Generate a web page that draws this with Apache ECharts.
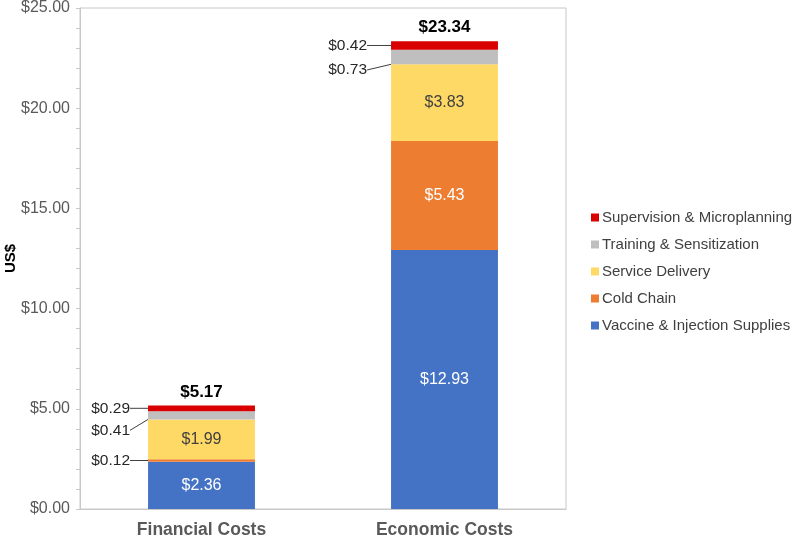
<!DOCTYPE html>
<html>
<head>
<meta charset="utf-8">
<script src="https://cdn.jsdelivr.net/npm/echarts@6/dist/echarts.min.js"></script>
<style>
  html, body { margin: 0; padding: 0; background: #fff; }
  #chart { width: 794px; height: 537px; }
</style>
</head>
<body>
<div id="chart"></div>
<script>
const categories = ['Financial Costs', 'Economic Costs']
const seriesNames = ['Vaccine & Injection Supplies', 'Cold Chain', 'Service Delivery', 'Training & Sensitization', 'Supervision & Microplanning']
const vaccine = [2.36, 12.93]
const coldChain = [0.12, 5.43]
const serviceDelivery = [1.99, 3.83]
const training = [0.41, 0.73]
const supervision = [0.29, 0.42]
const totals = [5.17, 23.34]
const colors = ['#4472c4', '#ed7d31', '#ffd966', '#bfbfbf', '#d90000']

const chart = echarts.init(document.getElementById('chart'))

const money = v => '$' + Number(v).toFixed(2)
const font = 'Arial, Liberation Sans, sans-serif'

const insideLabel = color => ({
  show: true,
  position: 'inside',
  color: color,
  fontSize: 16,
  fontFamily: font,
  formatter: p => money(p.value)
})

const leftLabel = {
  show: true,
  position: 'left',
  distance: 9,
  color: '#262626',
  fontSize: 15.5,
  padding: [0, 5, 0, 0],
  fontFamily: font,
  formatter: p => money(p.value)
}

const leftLine = { show: true, lineStyle: { color: '#404040', width: 1 } }

// push outside labels a bit further from the bar, more on the right bar
const shiftX = i => (i === 0 ? -4 : -10)

const option = {
  backgroundColor: '#fff',
  animation: false,
  grid: {
    left: 80, right: 228, top: 8, bottom: 28,
    outerBoundsMode: 'none',
    containLabel: false,
    show: true, borderColor: '#c8c8c8', borderWidth: 1
  },
  legend: {
    orient: 'vertical',
    left: 591,
    top: 209,
    padding: 0,
    itemWidth: 8,
    itemHeight: 8,
    itemGap: 10,
    icon: 'rect',
    data: seriesNames.slice().reverse(),
    textStyle: { color: '#404040', fontSize: 15, lineHeight: 17, padding: [0, 0, 0, -2], fontFamily: font }
  },
  xAxis: {
    type: 'category',
    data: categories,
    axisLine: { lineStyle: { color: '#c8c8c8' } },
    axisTick: { show: false },
    axisLabel: { color: '#595959', fontSize: 17.5, fontWeight: 'bold', margin: 12, fontFamily: font }
  },
  yAxis: {
    type: 'value',
    min: 0, max: 25, interval: 5,
    name: 'US$',
    nameLocation: 'middle',
    nameGap: 62,
    nameMoveOverlap: false,
    nameTextStyle: { color: '#000', fontSize: 15, fontWeight: 'bold', fontFamily: font },
    axisLine: { show: true, lineStyle: { color: '#c8c8c8' } },
    axisTick: { show: true, length: 4, lineStyle: { color: '#c8c8c8' } },
    minorTick: { show: true, splitNumber: 5, length: 4, lineStyle: { color: '#c8c8c8' } },
    splitLine: { show: false },
    axisLabel: { color: '#595959', fontSize: 16, margin: 10, formatter: v => money(v), fontFamily: font }
  },
  series: [
    {
      name: seriesNames[0], type: 'bar', stack: 'cost', barWidth: '44%',
      itemStyle: { color: colors[0] },
      label: insideLabel('#fff'),
      data: vaccine
    },
    {
      name: seriesNames[1], type: 'bar', stack: 'cost',
      itemStyle: { color: colors[1] },
      label: insideLabel('#fff'),
      labelLayout: p => (p.dataIndex === 0 ? { dx: shiftX(0) } : {}),
      data: [{ value: coldChain[0], label: leftLabel, labelLine: leftLine }, coldChain[1]]
    },
    {
      name: seriesNames[2], type: 'bar', stack: 'cost',
      itemStyle: { color: colors[2] },
      label: insideLabel('#404040'),
      data: serviceDelivery
    },
    {
      name: seriesNames[3], type: 'bar', stack: 'cost',
      itemStyle: { color: colors[3] },
      label: leftLabel,
      labelLine: leftLine,
      labelLayout: p => ({ dx: shiftX(p.dataIndex), dy: p.dataIndex === 0 ? 15 : 13 }),
      data: training
    },
    {
      name: seriesNames[4], type: 'bar', stack: 'cost',
      itemStyle: { color: colors[4] },
      label: leftLabel,
      labelLine: leftLine,
      labelLayout: p => ({ dx: shiftX(p.dataIndex), dy: 0 }),
      data: supervision
    },
    {
      name: 'Total', type: 'bar', stack: 'cost',
      itemStyle: { color: 'transparent' },
      label: {
        show: true, position: 'top', distance: 5,
        color: '#000', fontSize: 17, fontWeight: 'bold',
        fontFamily: font,
        formatter: p => money(totals[p.dataIndex])
      },
      data: [0, 0]
    }
  ]
}

chart.setOption(option)
</script>
</body>
</html>
